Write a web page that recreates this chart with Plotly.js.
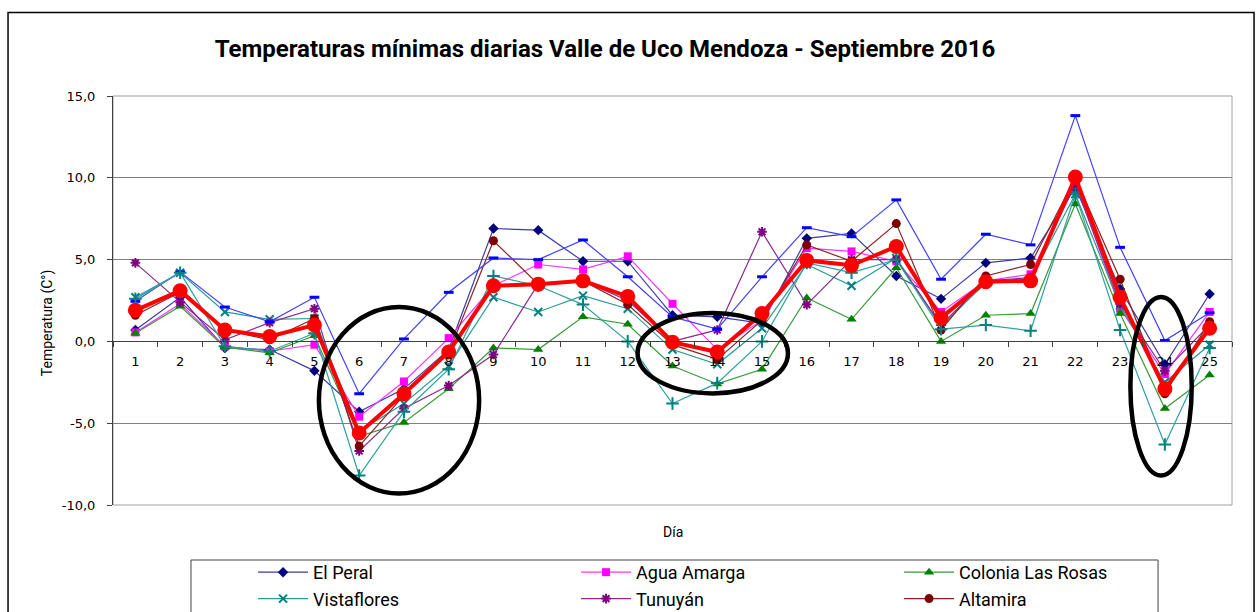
<!DOCTYPE html>
<html>
<head>
<meta charset="utf-8">
<script src="https://cdn.plot.ly/plotly-3.0.1.min.js"></script>
<style>html,body{margin:0;padding:0;background:#fff;}#chart{width:1259px;height:612px;}</style>
</head>
<body>
<div id="chart"></div>
<script>
const days = [1,2,3,4,5,6,7,8,9,10,11,12,13,14,15,16,17,18,19,20,21,22,23,24,25];
const dayLabels = days.map(String);

const elPeral        = [0.7, 2.7, -0.4, -0.5, -1.8, -4.3, -2.9, -0.5, 6.9, 6.8, 4.9, 4.9, 1.6, 1.5, 1.1, 6.3, 6.6, 4.0, 2.6, 4.8, 5.1, 9.4, 3.2, -1.4, 2.9];
const aguaAmarga     = [0.55, 2.3, -0.3, -0.6, -0.2, -4.6, -2.45, 0.2, 3.4, 4.7, 4.4, 5.2, 2.3, -0.5, 1.3, 5.7, 5.5, 4.9, 1.8, 3.7, 4.1, 9.8, 2.0, -2.0, 1.8];
const coloniaRosas   = [0.5, 2.15, -0.35, -0.7, 0.35, -5.8, -4.95, -2.9, -0.4, -0.5, 1.5, 1.05, -1.5, -2.6, -1.7, 2.65, 1.35, 4.5, 0.0, 1.6, 1.7, 8.4, 1.7, -4.1, -2.05];
const vistaflores    = [2.7, 4.2, 1.8, 1.35, 1.4, -5.5, -3.8, -1.5, 2.7, 1.8, 2.8, 2.0, -0.5, -1.4, 0.8, 4.7, 3.4, 5.1, 0.9, 3.6, 3.8, 9.0, 2.2, -2.5, -0.2];
const tunuyan        = [4.8, 2.4, 0.1, 1.15, 2.0, -6.7, -4.1, -2.7, -0.8, 3.5, 3.7, 2.5, 0.0, 0.7, 6.7, 2.25, 5.0, 5.0, 1.0, 3.7, 3.9, 9.6, 2.3, -1.8, 1.0];
const altamira       = [1.6, 3.0, 0.7, 0.1, 1.4, -6.4, -3.3, -0.7, 6.15, 3.5, 3.7, 2.25, -0.2, -1.1, 1.3, 5.9, 4.9, 7.2, 0.7, 4.0, 4.7, 10.0, 3.8, -3.2, 1.2];
const estacion7      = [2.45, 4.25, 2.1, 1.2, 2.7, -3.2, 0.15, 3.0, 5.1, 5.0, 6.2, 3.95, 1.5, 0.75, 3.95, 6.95, 6.4, 8.65, 3.8, 6.55, 5.9, 13.8, 5.75, 0.05, 1.75];
const estacion8      = [2.6, 4.2, -0.3, -0.6, 0.5, -8.2, -4.3, -1.7, 4.0, 3.4, 2.25, 0.0, -3.8, -2.55, 0.0, 4.8, 4.2, 5.0, 0.75, 1.0, 0.65, 9.0, 0.7, -6.3, -0.4];
const promedio       = [1.9, 3.1, 0.7, 0.3, 1.0, -5.6, -3.2, -0.65, 3.4, 3.5, 3.7, 2.75, -0.05, -0.65, 1.7, 4.95, 4.65, 5.8, 1.45, 3.65, 3.7, 10.05, 2.7, -2.9, 0.8];

const yTickVals = [-10, -5, 0, 5, 10, 15];
const yTickText = ["-10,0", "-5,0", "0,0", "5,0", "10,0", "15,0"];

function tr(name, y, lineColor, lineWidth, symbol, mColor, mSize, mLineW, show) {
  return {
    type: 'scatter', mode: 'lines+markers', name: name, x: days, y: y,
    showlegend: show,
    line: {color: lineColor, width: lineWidth},
    marker: {symbol: symbol, color: mColor, size: mSize, line: {color: mColor, width: mLineW}}
  };
}

const data = [
  tr('El Peral', elPeral, '#3b3ba8', 1.2, 'diamond', '#000080', 8, 0, true),
  tr('Agua Amarga', aguaAmarga, '#ff33ff', 1.2, 'square', '#ff00ff', 8, 0, true),
  tr('Colonia Las Rosas', coloniaRosas, '#3a9a3a', 1.2, 'triangle-up', '#008000', 9, 0, true),
  tr('Vistaflores', vistaflores, '#2a9a9a', 1.2, 'x-thin-open', '#008080', 8, 2, true),
  tr('Tunuyán', tunuyan, '#8a2a8a', 1.2, 'asterisk-open', '#800080', 8, 2, true),
  tr('Altamira', altamira, '#8a2020', 1.2, 'circle', '#800000', 9, 0, true),
  tr('Estación 7', estacion7, '#4040ff', 1.2, 'line-ew-open', '#0000ff', 7, 3, false),
  tr('Estación 8', estacion8, '#30a0a0', 1.2, 'cross-thin-open', '#008080', 9, 2, false),
  tr('Promedio', promedio, '#ff0000', 4, 'circle', '#ff0000', 15, 0, false)
];

const ellipseStyle = {color: '#000000', width: 4.5};
const layout = {
  width: 1259, height: 612,
  margin: {l: 113, r: 27, t: 96, b: 107, autoexpand: false},
  paper_bgcolor: '#ffffff', plot_bgcolor: '#ffffff',
  font: {family: 'DejaVu Sans, sans-serif', color: '#000000'},
  title: {
    text: '<b>Temperaturas mínimas diarias Valle de Uco Mendoza - Septiembre 2016</b>',
    font: {family: 'Roboto, sans-serif', size: 24, color: '#000000'},
    xref: 'container', yref: 'container', x: 0.4805, xanchor: 'center', y: 0.92, yanchor: 'middle'
  },
  xaxis: {
    type: 'linear', range: [0.5, 25.5], tickvals: days, ticktext: dayLabels,
    anchor: 'free', position: 0.4, showgrid: false, zeroline: false,
    showline: true, linecolor: '#404040', linewidth: 1,
    ticks: '', ticklabelstandoff: 8,
    tickfont: {family: 'DejaVu Sans, sans-serif', size: 13, color: '#000'},
    minor: {tick0: 0.5, dtick: 1, ticks: 'outside', ticklen: 5, tickcolor: '#404040', showgrid: false},
    automargin: false, fixedrange: true
  },
  yaxis: {
    range: [-10, 15], tickvals: yTickVals, ticktext: yTickText,
    showgrid: true, gridcolor: '#808080', gridwidth: 1, zeroline: false,
    showline: true, linecolor: '#404040', linewidth: 1,
    ticks: 'outside', ticklen: 5, tickcolor: '#404040', ticklabelstandoff: 9,
    tickfont: {family: 'DejaVu Sans, sans-serif', size: 13, color: '#000'},
    automargin: false, fixedrange: true
  },
  legend: {
    orientation: 'h', xref: 'container', yref: 'container',
    x: 0.201, xanchor: 'left', y: 0.0948, yanchor: 'top',
    entrywidth: 258, entrywidthmode: 'pixels', itemwidth: 50,
    borderwidth: 0, bgcolor: 'rgba(0,0,0,0)',
    font: {family: 'Roboto, sans-serif', size: 18, color: '#000'}
  },
  annotations: [
    {text: 'Día', xref: 'paper', yref: 'paper', x: 0.5, y: -0.066, showarrow: false,
     font: {family: 'Roboto, sans-serif', size: 14}, xanchor: 'center', yanchor: 'middle'},
    {text: 'Temperatura (C°)', xref: 'paper', yref: 'paper', x: -0.059, y: 0.447, showarrow: false,
     textangle: -90, font: {family: 'Roboto, sans-serif', size: 14}, xanchor: 'center', yanchor: 'middle'}
  ],
  shapes: [
    {type: 'rect', xref: 'paper', yref: 'paper', x0: 0, x1: 1, y0: 0, y1: 1,
     line: {color: '#a0a0a0', width: 1}, layer: 'below'},
    {type: 'rect', xref: 'paper', yref: 'paper', x0: -0.0938, x1: 1.0197, y0: -0.3, y1: 1.204,
     line: {color: '#000000', width: 1.5}},
    {type: 'rect', xref: 'paper', yref: 'paper', x0: 0.0697, x1: 0.9339, y0: -0.3, y1: -0.1345,
     line: {color: '#404040', width: 1}},
    {type: 'circle', xref: 'x', yref: 'y', x0: 5.1, x1: 8.68, y0: -9.3, y1: 2.1, line: ellipseStyle},
    {type: 'circle', xref: 'x', yref: 'y', x0: 12.22, x1: 15.58, y0: -3.18, y1: 1.74, line: ellipseStyle},
    {type: 'circle', xref: 'x', yref: 'y', x0: 23.23, x1: 24.6, y0: -8.2, y1: 2.72, line: ellipseStyle}
  ]
};

Plotly.newPlot('chart', data, layout, {displayModeBar: false, staticPlot: true});
</script>
</body>
</html>
